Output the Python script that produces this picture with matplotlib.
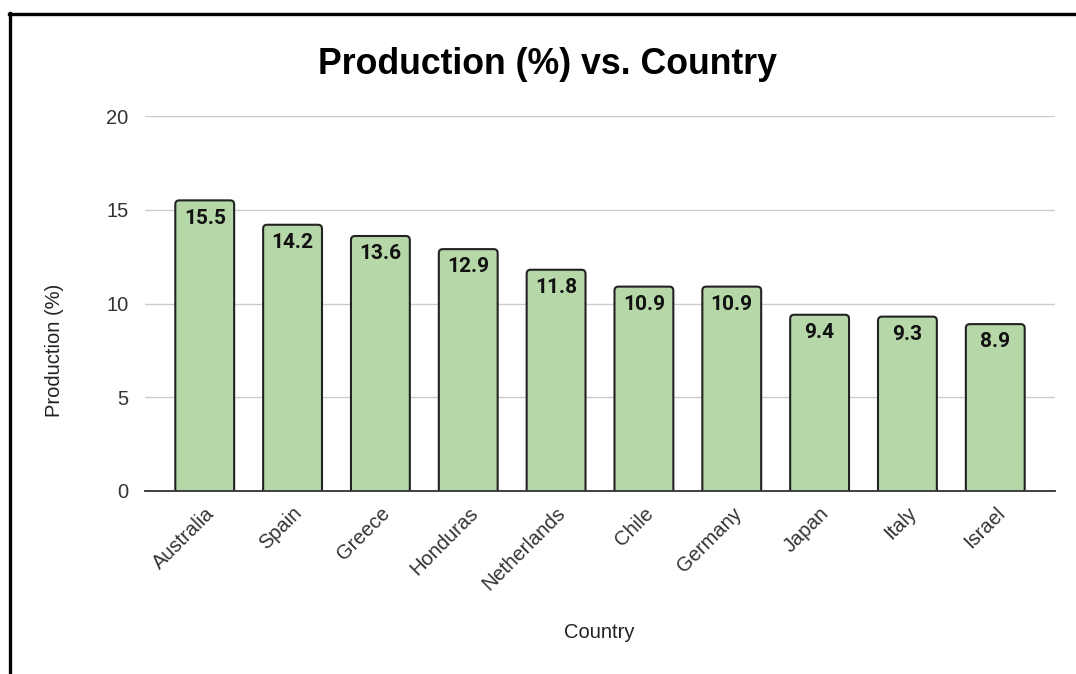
import matplotlib
matplotlib.use("Agg")
import matplotlib.pyplot as plt
from matplotlib.lines import Line2D
from matplotlib.patches import FancyBboxPatch

countries = ["Australia", "Spain", "Greece", "Honduras", "Netherlands",
             "Chile", "Germany", "Japan", "Italy", "Israel"]
production = [15.5, 14.2, 13.6, 12.9, 11.8, 10.9, 10.9, 9.4, 9.3, 8.9]
yticks = [0, 5, 10, 15, 20]

plt.rcParams['font.family'] = ['Liberation Sans', 'DejaVu Sans']

W, H = 1076, 674
fig = plt.figure(figsize=(W / 100, H / 100), dpi=100)
ax_l, ax_r, ax_t, ax_b = 145, 1055, 116, 491
ax = fig.add_axes([ax_l / W, 1 - ax_b / H, (ax_r - ax_l) / W, (ax_b - ax_t) / H])

xlim = (-0.68, 9.68)
ylim = (0, 20)
ax.set_xlim(*xlim)
ax.set_ylim(*ylim)

x = list(range(len(countries)))
bw = 0.67
px_per_x = (ax_r - ax_l) / (xlim[1] - xlim[0])
px_per_y = (ax_b - ax_t) / (ylim[1] - ylim[0])
aspect = px_per_x / px_per_y
rad = 4.0 / px_per_x
ext = 1.0
for xi, v in zip(x, production):
    p = FancyBboxPatch((xi - bw / 2, -ext), bw, v + ext,
                       boxstyle=f"round,pad=0,rounding_size={rad}",
                       mutation_aspect=aspect,
                       facecolor="#b6d7a8", edgecolor="#222222",
                       linewidth=1.5, zorder=3)
    ax.add_patch(p)
    ax.annotate(f"{v}", (xi, v), xytext=(0, -6), textcoords="offset points",
                ha="center", va="top", fontsize=15, fontweight="bold",
                color="#111111", family=["Roboto", "DejaVu Sans"], zorder=4)

ax.set_yticks(yticks)
ax.set_yticklabels([str(t) for t in yticks], fontsize=14.5, color="#333333")
ax.yaxis.grid(True, color="#cccccc", linewidth=1, zorder=0)
ax.tick_params(axis="both", length=0)
ax.tick_params(axis="y", pad=12)
ax.set_xticks(x)
ax.set_xticklabels(countries, rotation=45, ha="right", rotation_mode="anchor",
                   fontsize=14.5, color="#333333")
ax.tick_params(axis="x", pad=9)
for s in ["top", "right", "left"]:
    ax.spines[s].set_visible(False)
ax.spines["bottom"].set_color("#333333")
ax.spines["bottom"].set_linewidth(1.3)
ax.spines["bottom"].set_zorder(5)

fig.text(548 / W, 1 - 64 / H, "Production (%) vs. Country", ha="center",
         va="center", fontsize=25.7, fontweight="bold", color="#000000")
fig.text(55 / W, 1 - 350 / H, "Production (%)", ha="center", va="center",
         rotation=90, fontsize=14.5, color="#222222")
fig.text(599 / W, 1 - 633 / H, "Country", ha="center", va="center",
         fontsize=14.5, color="#222222")

fig.add_artist(Line2D([9.5 / W, 9.5 / W], [0, 1 - 13 / H], color="black",
                      linewidth=2.4, transform=fig.transFigure))
fig.add_artist(Line2D([8.6 / W, 1.0], [1 - 13.5 / H, 1 - 13.5 / H], color="black",
                      linewidth=2.4, transform=fig.transFigure))

fig.savefig("out.png", dpi=100)
